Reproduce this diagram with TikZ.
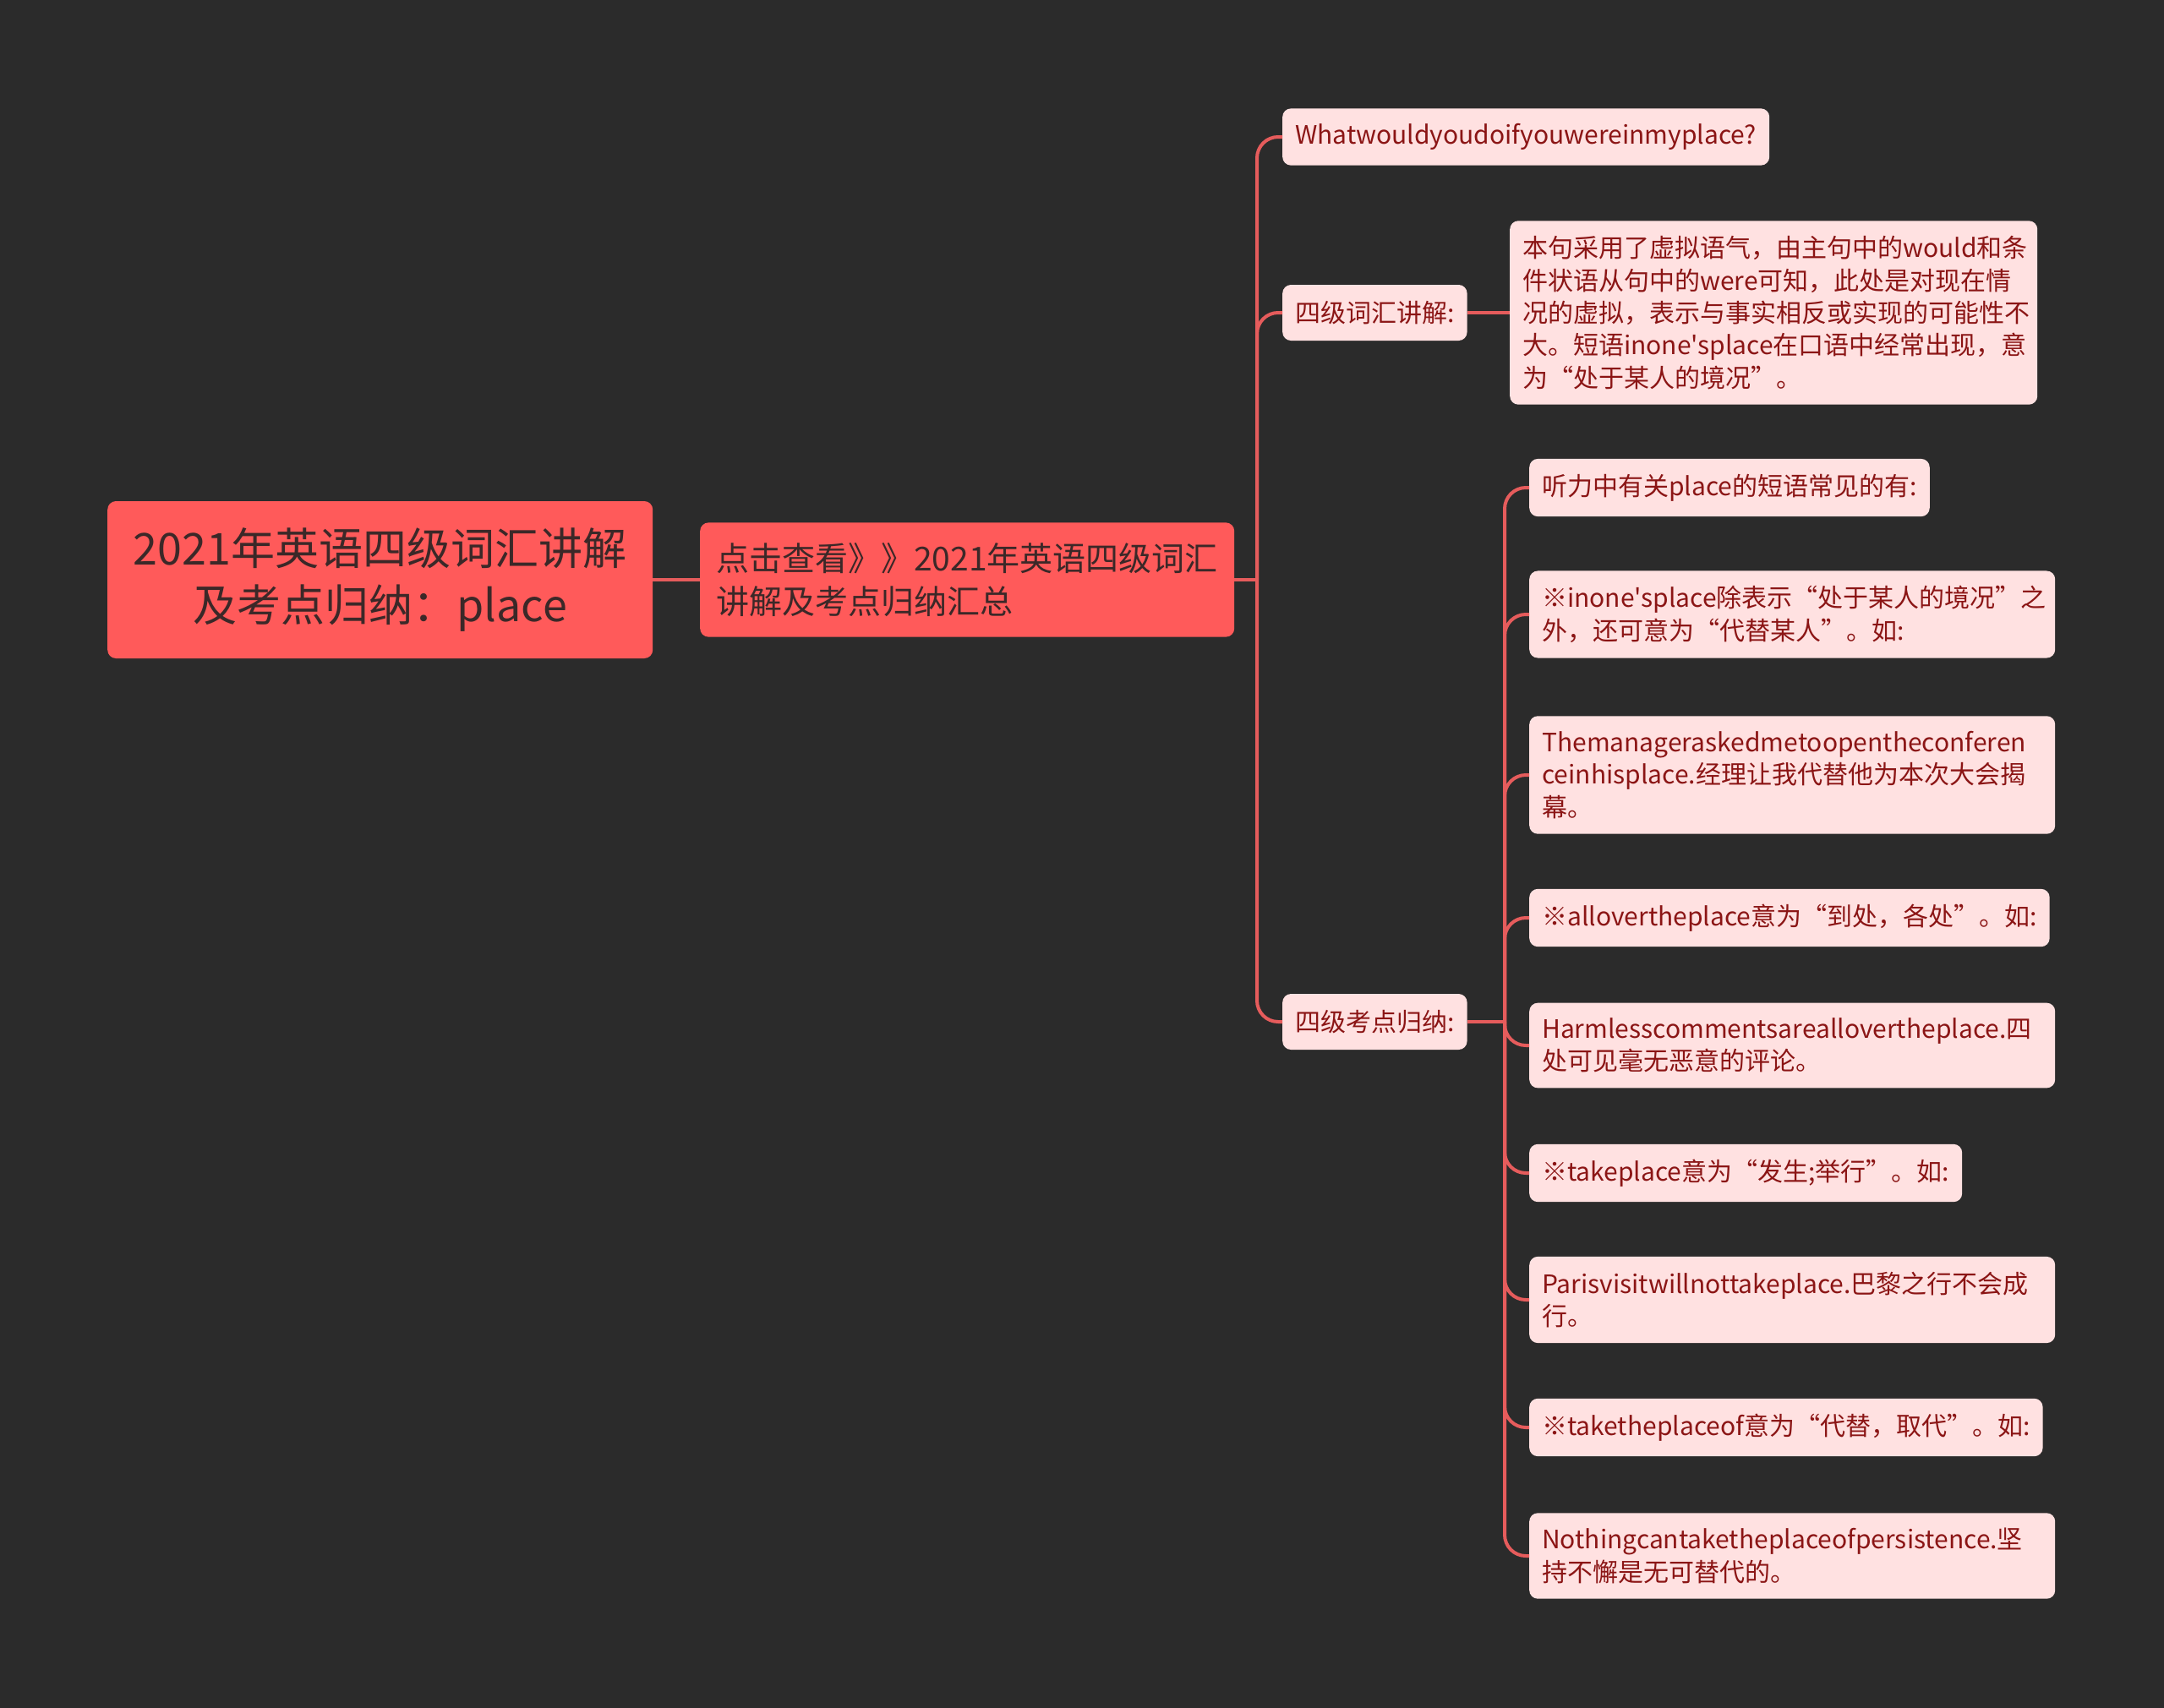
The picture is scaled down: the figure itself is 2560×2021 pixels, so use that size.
\documentclass[tikz,border=0pt]{standalone}
\usepackage{fontspec}
\usepackage{tikz}
\newfontfamily\cjk{Noto Sans CJK SC}

\definecolor{bgdark}{HTML}{2B2B2B}
\definecolor{coral}{HTML}{FF5A5A}
\definecolor{coralink}{HTML}{3B2828}
\definecolor{blush}{HTML}{FFE1E1}
\definecolor{blushink}{HTML}{8B1515}
\definecolor{wire}{HTML}{E65C5C}

\begin{document}
\begin{tikzpicture}[x=1pt,y=-1pt,
  rootbox/.style={fill=coral,text=coralink,rounded corners=10pt,anchor=west,align=center,
    minimum width=645pt,minimum height=186pt,font=\cjk\fontsize{52}{67}\selectfont},
  hubbox/.style={fill=coral,text=coralink,rounded corners=10pt,anchor=west,align=left,
    text width=594pt,inner xsep=19pt,inner ysep=24pt,font=\cjk\fontsize{39}{51}\selectfont},
  leafbox/.style={fill=blush,text=blushink,rounded corners=10pt,anchor=west,align=left,
    inner xsep=15pt,inner ysep=18pt,minimum height=66pt,font=\cjk\fontsize{30}{38.4}\selectfont},
  link/.style={draw=wire,line width=4pt},
  elbow/.style={draw=wire,line width=4pt,rounded corners=25pt}]

\fill[bgdark] (0,0) rectangle (2560,2021);
\useasboundingbox (0,0) rectangle (2560,2021);

\node[rootbox] (a) at (127,686) {2021年英语四级词汇讲解\\及考点归纳：place};
\node[hubbox] (b) at (828,686) {点击查看》》2021年英语四级词汇\\讲解及考点归纳汇总};
\path[link] (a) -- (b);

\node[leafbox] (c) at (1517,162) {Whatwouldyoudoifyouwereinmyplace?};
\node[leafbox] (d) at (1517,370) {四级词汇讲解:};
\node[leafbox] (f) at (1517,1209) {四级考点归纳:};
\coordinate (bfork) at (1487,686);
\path[link] (b.east) -- (bfork);
\path[elbow] (bfork) |- (c.west);
\path[elbow] (bfork) |- (d.west);
\path[elbow] (bfork) |- (f.west);

\node[leafbox,text width=594pt] (e) at (1786,370) {本句采用了虚拟语气，由主句中的would和条\\件状语从句中的were可知，此处是对现在情\\况的虚拟，表示与事实相反或实现的可能性不\\大。短语inone'splace在口语中经常出现，意\\为“处于某人的境况”。};
\path[link] (d) -- (e);

\node[leafbox] (g) at (1809,577) {听力中有关place的短语常见的有:};
\node[leafbox,text width=592pt] (h) at (1809,727) {※inone'splace除表示“处于某人的境况”之\\外，还可意为“代替某人”。如:};
\node[leafbox,text width=592pt] (i) at (1809,917) {Themanageraskedmetoopentheconferen\\ceinhisplace.经理让我代替他为本次大会揭\\幕。};
\node[leafbox] (j) at (1809,1086) {※allovertheplace意为“到处，各处”。如:};
\node[leafbox,text width=592pt] (k) at (1809,1237) {Harmlesscommentsareallovertheplace.四\\处可见毫无恶意的评论。};
\node[leafbox] (l) at (1809,1388) {※takeplace意为“发生;举行”。如:};
\node[leafbox,text width=592pt] (m) at (1809,1538) {Parisvisitwillnottakeplace.巴黎之行不会成\\行。};
\node[leafbox] (n) at (1809,1689) {※taketheplaceof意为“代替，取代”。如:};
\node[leafbox,text width=592pt] (o) at (1809,1841) {Nothingcantaketheplaceofpersistence.坚\\持不懈是无可替代的。};

\coordinate (ffork) at (1780,1209);
\path[link] (f.east) -- (ffork);
\foreach \leaf in {g,h,i,j,k,l,m,n,o}
  \path[elbow] (ffork) |- (\leaf.west);
\end{tikzpicture}
\end{document}
